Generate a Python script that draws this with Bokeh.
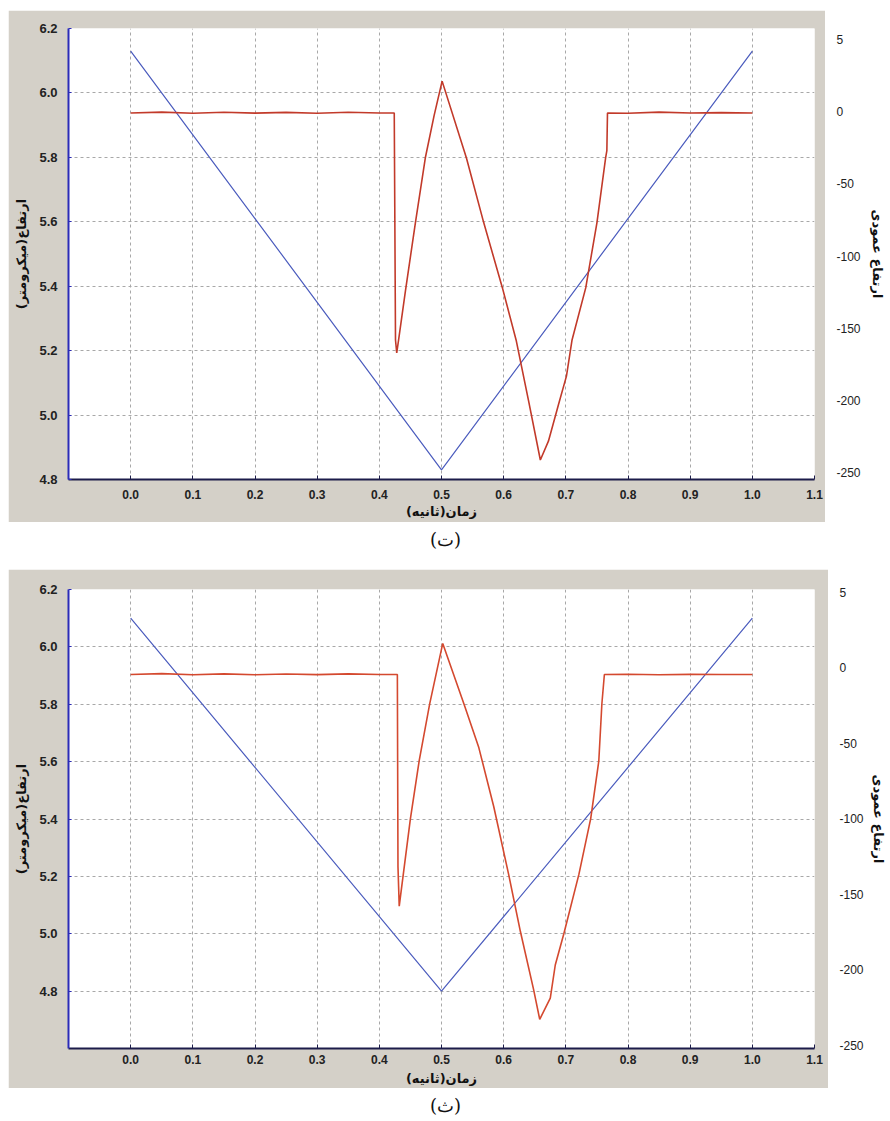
from bokeh.plotting import figure
from bokeh.models import Range1d, FixedTicker, PrintfTickFormatter, Spacer
from bokeh.layouts import column, row
from bokeh.core.properties import value
from bokeh.embed import file_html
from bokeh.resources import INLINE

# ---------------- data ----------------
x_ticks = [0.0, 0.1, 0.2, 0.3, 0.4, 0.5, 0.6, 0.7, 0.8, 0.9, 1.0, 1.1]
x_tick_labels = ["0.0", "0.1", "0.2", "0.3", "0.4", "0.5", "0.6", "0.7", "0.8", "0.9", "1.0", "1.1"]
left_ticks = [4.8, 5.0, 5.2, 5.4, 5.6, 5.8, 6.0, 6.2]
left_tick_labels = ["4.8", "5.0", "5.2", "5.4", "5.6", "5.8", "6.0", "6.2"]
right_ticks = [50, 0, -50, -100, -150, -200, -250]
right_tick_labels = ["5", "0", "-50", "-100", "-150", "-200", "-250"]

# panel (ت)
blue_t_time = [0.0, 0.5, 1.0]
blue_t_height = [6.13, 4.83, 6.13]
red_t_time = [0.0, 0.05, 0.1, 0.15, 0.2, 0.25, 0.3, 0.35, 0.4, 0.424, 0.426, 0.428, 0.431,
              0.442, 0.458, 0.474, 0.488, 0.501, 0.540, 0.568, 0.598, 0.620, 0.640, 0.659, 0.672,
              0.688, 0.701, 0.710, 0.732, 0.750, 0.764, 0.766, 0.767, 0.8, 0.85, 0.9, 0.95, 1.0]
red_t_vertical = [-1.0, -0.4, -1.2, -0.5, -1.1, -0.6, -1.2, -0.5, -1.0, -1.0, -158, -167, -158,
                  -124, -77, -32, -3, 21, -32, -77, -122, -158, -200, -241, -228,
                  -203, -183, -158, -122, -77, -32, -27, -1.0, -1.2, -0.4, -1.0, -0.8, -1.0]

# panel (ث)
blue_th_time = [0.0, 0.5, 1.0]
blue_th_height = [6.10, 4.80, 6.10]
red_th_time = [0.0, 0.05, 0.1, 0.15, 0.2, 0.25, 0.3, 0.35, 0.4, 0.429, 0.430, 0.432,
               0.450, 0.464, 0.481, 0.502, 0.536, 0.560, 0.584, 0.608, 0.627, 0.648, 0.658,
               0.675, 0.683, 0.697, 0.721, 0.740, 0.753, 0.758, 0.762, 0.8, 0.85, 0.9, 0.95, 1.0]
red_th_vertical = [-4.6, -4.0, -4.8, -4.2, -4.8, -4.3, -4.7, -4.2, -4.6, -4.6, -132, -158,
                   -100, -62, -24, 16, -24, -53, -92, -137, -175, -213, -233,
                   -219, -197, -176, -137, -100, -62, -24, -4.6, -4.4, -4.8, -4.5, -4.6, -4.6]

GREY = "#d4d0c8"
BLUE = "#4a5bbd"
RED_T = "#c23a2a"
RED_TH = "#d4492f"
FA = "DejaVu Sans"
FN = "Liberation Sans"
TXT = "#222222"


def main_panel(W, H, ft, fh, fr, left_range, right_range, grid_y,
               blue_x, blue_y, red_x, red_y, red_color, xstand, xlab_stand):
    fl = 60
    fb = H - ft - fh
    p = figure(width=W, height=H, x_range=Range1d(-0.1, 1.1), y_range=Range1d(*left_range),
               output_backend="svg", toolbar_location=None,
               min_border_left=fl, min_border_right=fr, min_border_top=ft, min_border_bottom=fb,
               background_fill_color="white", border_fill_color=GREY, outline_line_color=None)
    p.extra_y_ranges = {"v": Range1d(*right_range)}

    p.xgrid.ticker = FixedTicker(ticks=x_ticks[:-1])
    p.ygrid.ticker = FixedTicker(ticks=grid_y)
    for g in (p.xgrid, p.ygrid):
        g.grid_line_color = "#a8a8a8"
        g.grid_line_dash = "3 3"
        g.grid_line_width = 1

    xa = p.xaxis[0]
    xa.ticker = FixedTicker(ticks=x_ticks)
    xa.formatter = PrintfTickFormatter(format="%.1f")
    xa.major_label_overrides = dict(zip(x_ticks, x_tick_labels))
    xa.axis_line_color = "#1c1c4a"
    xa.axis_line_width = 2
    xa.major_tick_in = 4
    xa.major_tick_out = 0
    xa.major_tick_line_color = "#1c1c4a"
    xa.minor_tick_line_color = None
    xa.major_label_standoff = xstand
    xa.major_label_text_font = FN
    xa.major_label_text_font_style = "bold"
    xa.major_label_text_font_size = "12px"
    xa.major_label_text_color = TXT
    xa.axis_label = "زمان(ثانیه)"
    xa.axis_label_text_font = FA
    xa.axis_label_text_font_style = "bold"
    xa.axis_label_text_font_size = "13px"
    xa.axis_label_text_color = "#111111"
    xa.axis_label_standoff = xlab_stand

    ya = p.yaxis[0]
    ya.ticker = FixedTicker(ticks=left_ticks)
    ya.formatter = PrintfTickFormatter(format="%.1f")
    ya.major_label_overrides = dict(zip(left_ticks, left_tick_labels))
    ya.axis_line_color = "#2b2bb8"
    ya.axis_line_width = 2
    ya.major_tick_in = 3
    ya.major_tick_out = 0
    ya.major_tick_line_color = "#2b2bb8"
    ya.minor_tick_line_color = None
    ya.major_label_standoff = 11
    ya.major_label_text_font = FN
    ya.major_label_text_font_style = "bold"
    ya.major_label_text_font_size = "13px"
    ya.major_label_text_color = TXT
    ya.axis_label = "ارتفاع(میکرومتر)"
    ya.axis_label_text_font = FA
    ya.axis_label_text_font_style = "bold"
    ya.axis_label_text_font_size = "13px"
    ya.axis_label_text_color = "#111111"
    ya.axis_label_standoff = 7

    p.line(blue_x, blue_y, color=BLUE, line_width=1.2)
    p.line(red_x, red_y, y_range_name="v", color=red_color, line_width=1.6)
    return p


def right_panel(W, H, ft, fh, right_range, lab_stand):
    fb = H - ft - fh
    p = figure(width=W, height=H, x_range=Range1d(0, 1), y_range=Range1d(*right_range),
               x_axis_type=None, y_axis_location="right",
               output_backend="svg", toolbar_location=None,
               min_border_left=0, min_border_right=W - 2, min_border_top=ft, min_border_bottom=fb,
               background_fill_color="white", border_fill_color="white", outline_line_color=None)
    p.grid.visible = False
    ra = p.yaxis[0]
    ra.ticker = FixedTicker(ticks=right_ticks)
    ra.major_label_overrides = dict(zip(right_ticks, right_tick_labels))
    ra.axis_line_color = None
    ra.major_tick_line_color = None
    ra.minor_tick_line_color = None
    ra.major_label_standoff = 3
    ra.major_label_text_font = FN
    ra.major_label_text_font_size = "12px"
    ra.major_label_text_color = TXT
    ra.axis_label = "ارتفاع عمودی"
    ra.axis_label_text_font = FA
    ra.axis_label_text_font_style = "bold"
    ra.axis_label_text_font_size = "13px"
    ra.axis_label_text_color = "#111111"
    ra.axis_label_standoff = lab_stand
    p.line([0, 1], [right_range[0] - 10, right_range[0] - 10], line_alpha=0)
    return p


def caption_panel(W, H, text, cy):
    p = figure(width=W, height=H, x_range=Range1d(0, W), y_range=Range1d(0, H),
               x_axis_type=None, y_axis_type=None,
               output_backend="svg", toolbar_location=None, min_border=0,
               background_fill_color="white", border_fill_color="white", outline_line_color=None)
    p.grid.visible = False
    p.text(x=[W / 2], y=[H - cy], text=[text], text_align="center", text_baseline="middle",
           text_font=value("DejaVu Serif"), text_font_size="18px", text_color="#111111")
    return p


# panel (ت): grey box x 8..825, y 10..522 ; frame x 68..814, y 28..479
m1 = main_panel(817, 512, 18, 451, 11, (4.8, 6.2), (-254.5, 57.4), [5.0, 5.2, 5.4, 5.6, 5.8, 6.0],
                blue_t_time, blue_t_height, red_t_time, red_t_vertical, RED_T, 10, 2)
r1 = right_panel(65, 512, 18, 451, (-254.5, 57.4), 6)
c1 = caption_panel(890, 33, "(ت)", 17)

# panel (ث): grey box x 8..828, y 569..1088 ; frame x 68..814, y 589..1048
m2 = main_panel(820, 519, 20, 459, 14, (4.6, 6.2), (-252.3, 51.7), [4.8, 5.0, 5.2, 5.4, 5.6, 5.8, 6.0],
                blue_th_time, blue_th_height, red_th_time, red_th_vertical, RED_TH, 6, 4)
r2 = right_panel(62, 519, 20, 459, (-252.3, 51.7), 4)
c2 = caption_panel(890, 32, "(ث)", 17)

layout = column(
    Spacer(width=890, height=10),
    row(Spacer(width=8, height=512), m1, r1, spacing=0),
    c1,
    Spacer(width=890, height=14),
    row(Spacer(width=8, height=519), m2, r2, spacing=0),
    c2,
    spacing=0,
)
open("out.html", "w").write(file_html(layout, INLINE))
